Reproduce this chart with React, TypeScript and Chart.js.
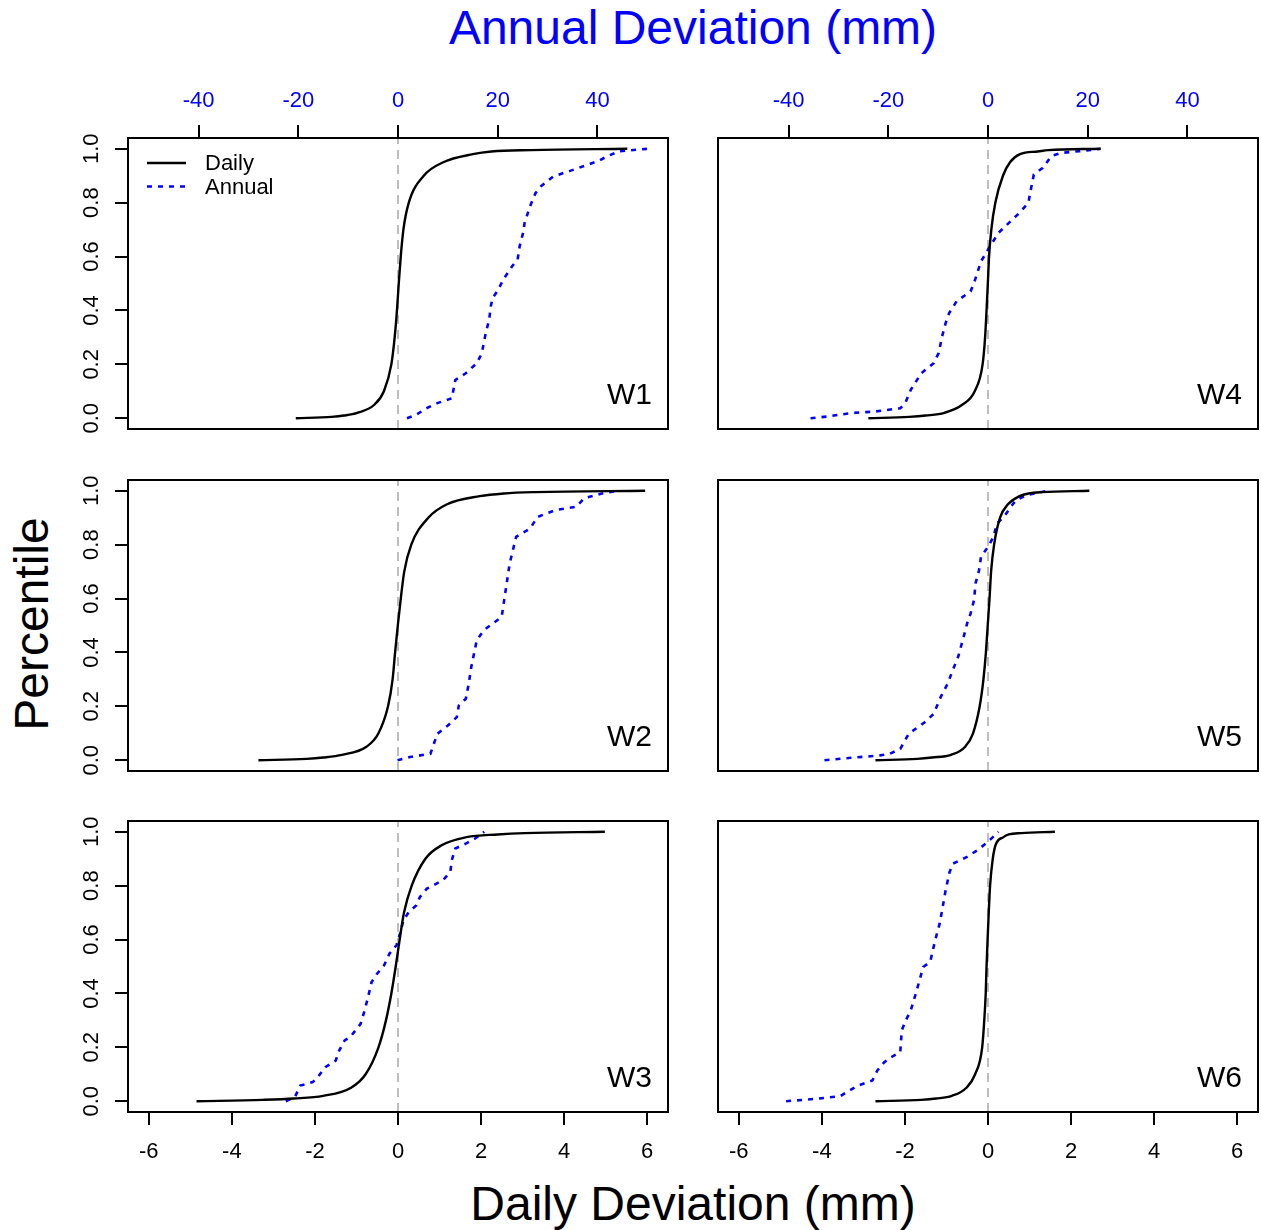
import React, { useEffect, useRef } from "react";
import { Chart, registerables } from "chart.js";

Chart.register(...registerables);

const FONT = "'Liberation Sans', Arial, Helvetica, sans-serif";

// ---------------- data ----------------
const PCT_LEVELS = [0, 0.005, 0.01, 0.02, 0.05, 0.1, 0.2, 0.3, 0.4, 0.5, 0.6, 0.7, 0.8, 0.9, 0.95, 0.98, 0.99, 0.995, 1];

const DAILY_TICKS = [-6, -4, -2, 0, 2, 4, 6];
const ANNUAL_TICKS = [-40, -20, 0, 20, 40];
const PCT_TICKS = [0, 0.2, 0.4, 0.6, 0.8, 1.0];
const DAILY_LIMIT = 6.5;
const ANNUAL_LIMIT = (6.5 * 50) / 6;
const PCT_MIN = -0.04;
const PCT_MAX = 1.04;

const SERIES_NAMES = ["Daily", "Annual"];
const PANEL_NAMES = ["W1", "W2", "W3", "W4", "W5", "W6"];

// Daily deviation (mm) at each percentile level
const W1_DAILY = [-2.46, -1.6, -1.3, -0.98, -0.57, -0.34, -0.16, -0.08, -0.025, 0.018, 0.066, 0.13, 0.26, 0.62, 1.09, 1.8, 2.25, 3.2, 5.52];
const W2_DAILY = [-3.36, -2.2, -1.8, -1.35, -0.76, -0.47, -0.24, -0.13, -0.07, -0.005, 0.067, 0.15, 0.32, 0.73, 1.18, 1.97, 2.55, 3.3, 5.95];
const W3_DAILY = [-4.85, -3.26, -2.5, -1.8, -1.13, -0.78, -0.47, -0.29, -0.16, -0.055, 0.04, 0.145, 0.33, 0.66, 1.05, 1.65, 2.4, 3.05, 4.98];
const W4_DAILY = [-2.88, -1.9, -1.5, -1.05, -0.62, -0.32, -0.13, -0.07, -0.035, -0.004, 0.025, 0.08, 0.176, 0.36, 0.53, 0.77, 1.2, 1.45, 2.71];
const W5_DAILY = [-2.71, -1.7, -1.35, -0.89, -0.55, -0.36, -0.2, -0.11, -0.05, -0.007, 0.037, 0.074, 0.147, 0.29, 0.48, 0.76, 0.98, 1.3, 2.44];
const W6_DAILY = [-2.71, -1.61, -1.25, -0.87, -0.52, -0.31, -0.14, -0.09, -0.055, -0.035, -0.01, 0.018, 0.05, 0.115, 0.18, 0.37, 0.5, 0.8, 1.61];

// Annual deviation (mm) and its percentile
const W1_ANNUAL_X = [1.8, 3.6, 5.7, 7.9, 10.8, 11.5, 13.6, 15.8, 16.8, 17.6, 18.3, 18.6, 19.0, 20.1, 21.1, 22.9, 24.0, 24.4, 25.1, 25.4, 26.5, 27.6, 28.7, 31.2, 34.4, 37.3, 40.1, 42.3, 44.4, 50.2];
const W1_ANNUAL_P = [0, 0.012, 0.037, 0.056, 0.074, 0.142, 0.167, 0.204, 0.24, 0.316, 0.366, 0.415, 0.446, 0.477, 0.514, 0.564, 0.589, 0.638, 0.688, 0.725, 0.787, 0.836, 0.861, 0.898, 0.917, 0.936, 0.954, 0.975, 0.991, 1.0];

const W2_ANNUAL_X = [-0.1, 2.2, 6.5, 7.2, 7.9, 10.0, 11.8, 12.2, 13.6, 14.2, 14.7, 15.8, 17.2, 20.8, 21.4, 21.9, 22.4, 23.7, 26.5, 28.0, 31.5, 35.8, 37.3, 40.9, 44.1];
const W2_ANNUAL_P = [0, 0.011, 0.024, 0.061, 0.098, 0.129, 0.16, 0.203, 0.228, 0.284, 0.346, 0.445, 0.482, 0.532, 0.606, 0.668, 0.73, 0.829, 0.86, 0.903, 0.928, 0.941, 0.972, 0.99, 1.0];

const W3_ANNUAL_X = [-22.5, -20.7, -19.6, -17.1, -16.1, -14.6, -12.5, -11.8, -10.7, -9.6, -7.5, -6.7, -6.0, -5.3, -4.2, -2.8, -1.7, -0.3, 0.4, 1.1, 2.2, 3.7, 4.4, 5.8, 9.0, 10.5, 10.8, 11.5, 13.7, 15.5, 17.3];
const W3_ANNUAL_P = [0, 0.015, 0.058, 0.071, 0.089, 0.126, 0.151, 0.188, 0.226, 0.238, 0.287, 0.337, 0.387, 0.442, 0.473, 0.504, 0.548, 0.579, 0.622, 0.672, 0.703, 0.727, 0.758, 0.789, 0.82, 0.851, 0.895, 0.938, 0.957, 0.975, 1.0];

const W4_ANNUAL_X = [-35.6, -32.4, -27.5, -22.6, -17.6, -16.6, -15.5, -13.4, -10.9, -9.9, -9.2, -8.5, -7.8, -6.3, -3.5, -2.8, -1.4, 0.4, 2.1, 4.2, 6.3, 8.1, 8.6, 9.2, 11.0, 12.7, 14.8, 18.3, 22.6];
const W4_ANNUAL_P = [0, 0.006, 0.019, 0.025, 0.037, 0.056, 0.105, 0.167, 0.204, 0.242, 0.304, 0.353, 0.39, 0.434, 0.471, 0.502, 0.582, 0.638, 0.688, 0.725, 0.762, 0.799, 0.849, 0.905, 0.929, 0.973, 0.985, 0.991, 1.0];

const W5_ANNUAL_X = [-32.8, -27.5, -21.9, -19.7, -17.6, -15.9, -12.7, -10.9, -9.5, -8.1, -7.1, -6.0, -4.9, -4.2, -3.5, -2.8, -2.5, -1.8, -1.4, 0, 1.1, 1.8, 3.2, 4.6, 5.6, 7.8, 12.0];
const W5_ANNUAL_P = [0, 0.009, 0.017, 0.024, 0.042, 0.098, 0.141, 0.172, 0.234, 0.284, 0.333, 0.383, 0.457, 0.507, 0.544, 0.594, 0.656, 0.705, 0.755, 0.792, 0.829, 0.879, 0.903, 0.941, 0.965, 0.984, 1.0];

const W6_ANNUAL_X = [-40.5, -34.5, -29.6, -27.8, -26.1, -23.2, -22.2, -20.8, -19.4, -17.6, -17.3, -16.5, -15.5, -14.4, -13.0, -11.6, -10.6, -9.7, -9.2, -8.5, -7.7, -7.0, -4.2, -2.1, 0, 2.1];
const W6_ANNUAL_P = [0, 0.009, 0.019, 0.04, 0.058, 0.077, 0.114, 0.145, 0.164, 0.182, 0.263, 0.3, 0.337, 0.405, 0.498, 0.517, 0.597, 0.659, 0.709, 0.783, 0.851, 0.882, 0.907, 0.932, 0.963, 1.0];

const PANELS = [
  { name: PANEL_NAMES[0], daily: W1_DAILY, annualX: W1_ANNUAL_X, annualP: W1_ANNUAL_P },
  { name: PANEL_NAMES[1], daily: W2_DAILY, annualX: W2_ANNUAL_X, annualP: W2_ANNUAL_P },
  { name: PANEL_NAMES[2], daily: W3_DAILY, annualX: W3_ANNUAL_X, annualP: W3_ANNUAL_P },
  { name: PANEL_NAMES[3], daily: W4_DAILY, annualX: W4_ANNUAL_X, annualP: W4_ANNUAL_P },
  { name: PANEL_NAMES[4], daily: W5_DAILY, annualX: W5_ANNUAL_X, annualP: W5_ANNUAL_P },
  { name: PANEL_NAMES[5], daily: W6_DAILY, annualX: W6_ANNUAL_X, annualP: W6_ANNUAL_P },
];

// ---------------- layout ----------------
const FRAME_LEFT = [128, 718];
const FRAME_TOP = [138, 480, 821];
const FRAME_W = 540;
const FRAME_H = 291;
const ML = 110;
const MT = 70;
const MR = 6;
const MB = 70;

Chart.defaults.font.family = FONT;

function Panel({ index }: { index: number }) {
  const ref = useRef<HTMLCanvasElement | null>(null);
  const col = index < 3 ? 0 : 1;
  const row = index % 3;
  const width = FRAME_W + ML + MR;
  const height = FRAME_H + MT + MB;

  useEffect(() => {
    const canvas = ref.current;
    if (!canvas) return;
    const panel = PANELS[index];
    const showLeft = col === 0;
    const showTop = row === 0;
    const showBottom = row === 2;
    const showLegend = index === 0;

    const decor = {
      id: "panelDecor",
      afterDatasetsDraw(chart: any) {
        const { ctx, chartArea: a } = chart;
        ctx.save();
        ctx.setLineDash([]);
        ctx.strokeStyle = "#000";
        ctx.lineWidth = 2;
        ctx.strokeRect(a.left, a.top, a.right - a.left, a.bottom - a.top);

        ctx.fillStyle = "#000";
        ctx.font = `30px ${FONT}`;
        ctx.textAlign = "right";
        ctx.textBaseline = "middle";
        ctx.fillText(panel.name, a.right - 16, a.bottom - 33);

        if (showLegend) {
          const sets = chart.data.datasets.slice(0, 2);
          sets.forEach((ds: any, i: number) => {
            const y = a.top + 25 + i * 23.5;
            ctx.strokeStyle = ds.borderColor;
            ctx.lineWidth = ds.borderWidth;
            ctx.setLineDash(ds.borderDash || []);
            ctx.beginPath();
            ctx.moveTo(a.left + 19, y);
            ctx.lineTo(a.left + 58, y);
            ctx.stroke();
            ctx.setLineDash([]);
            ctx.fillStyle = "#000";
            ctx.textAlign = "left";
            ctx.textBaseline = "middle";
            ctx.font = `22px ${FONT}`;
            ctx.fillText(ds.label, a.left + 77, y + 1);
          });
        }
        ctx.restore();
      },
    };

    const tickGrid = (show: boolean) => ({
      display: show,
      drawOnChartArea: false,
      drawTicks: true,
      tickLength: 13,
      color: "#000",
      lineWidth: 2,
    });

    const chart = new Chart(canvas, {
      type: "line",
      data: {
        datasets: [
          {
            label: SERIES_NAMES[0],
            data: PCT_LEVELS.map((p, i) => ({ x: panel.daily[i], y: p })),
            xAxisID: "x",
            yAxisID: "y",
            borderColor: "#000000",
            borderWidth: 2.4,
            pointRadius: 0,
            fill: false,
            cubicInterpolationMode: "monotone",
            order: 1,
          },
          {
            label: SERIES_NAMES[1],
            data: panel.annualX.map((x, i) => ({ x, y: panel.annualP[i] })),
            xAxisID: "x2",
            yAxisID: "y",
            borderColor: "#0000FF",
            borderWidth: 2.6,
            borderDash: [5, 6],
            pointRadius: 0,
            fill: false,
            tension: 0,
            order: 2,
          },
          {
            label: "zero",
            data: [
              { x: 0, y: PCT_MIN },
              { x: 0, y: PCT_MAX },
            ],
            xAxisID: "x",
            yAxisID: "y",
            borderColor: "#BEBEBE",
            borderWidth: 2,
            borderDash: [9, 6],
            pointRadius: 0,
            fill: false,
            order: 3,
          },
        ],
      } as any,
      options: {
        responsive: false,
        maintainAspectRatio: false,
        animation: false,
        devicePixelRatio: 1,
        events: [],
        layout: { padding: { left: 0, top: 0, right: MR, bottom: 0 } },
        plugins: {
          legend: { display: false },
          tooltip: { enabled: false },
        },
        scales: {
          x: {
            type: "linear",
            position: "bottom",
            min: -DAILY_LIMIT,
            max: DAILY_LIMIT,
            afterBuildTicks: (s: any) => {
              s.ticks = DAILY_TICKS.map((v) => ({ value: v }));
            },
            afterFit: (s: any) => {
              s.height = MB;
            },
            grid: tickGrid(showBottom),
            border: { display: false },
            ticks: {
              display: showBottom,
              color: "#000",
              font: { family: FONT, size: 22 },
              padding: 14,
              autoSkip: false,
              maxRotation: 0,
              minRotation: 0,
              callback: (v: any) => String(v),
            },
          },
          x2: {
            type: "linear",
            position: "top",
            min: -ANNUAL_LIMIT,
            max: ANNUAL_LIMIT,
            afterBuildTicks: (s: any) => {
              s.ticks = ANNUAL_TICKS.map((v) => ({ value: v }));
            },
            afterFit: (s: any) => {
              s.height = MT;
            },
            grid: tickGrid(showTop),
            border: { display: false },
            ticks: {
              display: showTop,
              color: "#0000FF",
              font: { family: FONT, size: 22 },
              padding: 11,
              autoSkip: false,
              maxRotation: 0,
              minRotation: 0,
              callback: (v: any) => String(v),
            },
          },
          y: {
            type: "linear",
            position: "left",
            min: PCT_MIN,
            max: PCT_MAX,
            afterBuildTicks: (s: any) => {
              s.ticks = PCT_TICKS.map((v) => ({ value: v }));
            },
            afterFit: (s: any) => {
              s.width = ML;
            },
            grid: tickGrid(showLeft),
            border: { display: false },
            ticks: {
              display: showLeft,
              color: "#000",
              font: { family: FONT, size: 22 },
              padding: 8,
              autoSkip: false,
              minRotation: 90,
              maxRotation: 90,
              crossAlign: "center",
              callback: (v: any) => Number(v).toFixed(1),
            },
          },
        },
      } as any,
      plugins: [decor],
    });
    return () => chart.destroy();
  }, [index, col, row]);

  return (
    <canvas
      ref={ref}
      width={width}
      height={height}
      style={{
        position: "absolute",
        left: FRAME_LEFT[col] - ML,
        top: FRAME_TOP[row] - MT,
        width,
        height,
      }}
    />
  );
}

export default function App() {
  const titleStyle: React.CSSProperties = {
    position: "absolute",
    left: 128,
    width: 1130,
    textAlign: "center",
    fontFamily: FONT,
    fontSize: 48,
    lineHeight: "48px",
    whiteSpace: "nowrap",
  };
  return (
    <div
      style={{
        position: "absolute",
        left: 0,
        top: 0,
        width: 1261,
        height: 1230,
        background: "#ffffff",
        overflow: "hidden",
      }}
    >
      <div style={{ ...titleStyle, top: 4, color: "#0000FF" }}>Annual Deviation (mm)</div>
      <div style={{ ...titleStyle, top: 1180, color: "#000000" }}>Daily Deviation (mm)</div>
      <div
        style={{
          position: "absolute",
          left: 32 - 200,
          top: 624 - 24,
          width: 400,
          height: 48,
          textAlign: "center",
          fontFamily: FONT,
          fontSize: 48,
          lineHeight: "48px",
          color: "#000",
          transform: "rotate(-90deg)",
          whiteSpace: "nowrap",
        }}
      >
        Percentile
      </div>
      {PANELS.map((_, i) => (
        <Panel key={i} index={i} />
      ))}
    </div>
  );
}
